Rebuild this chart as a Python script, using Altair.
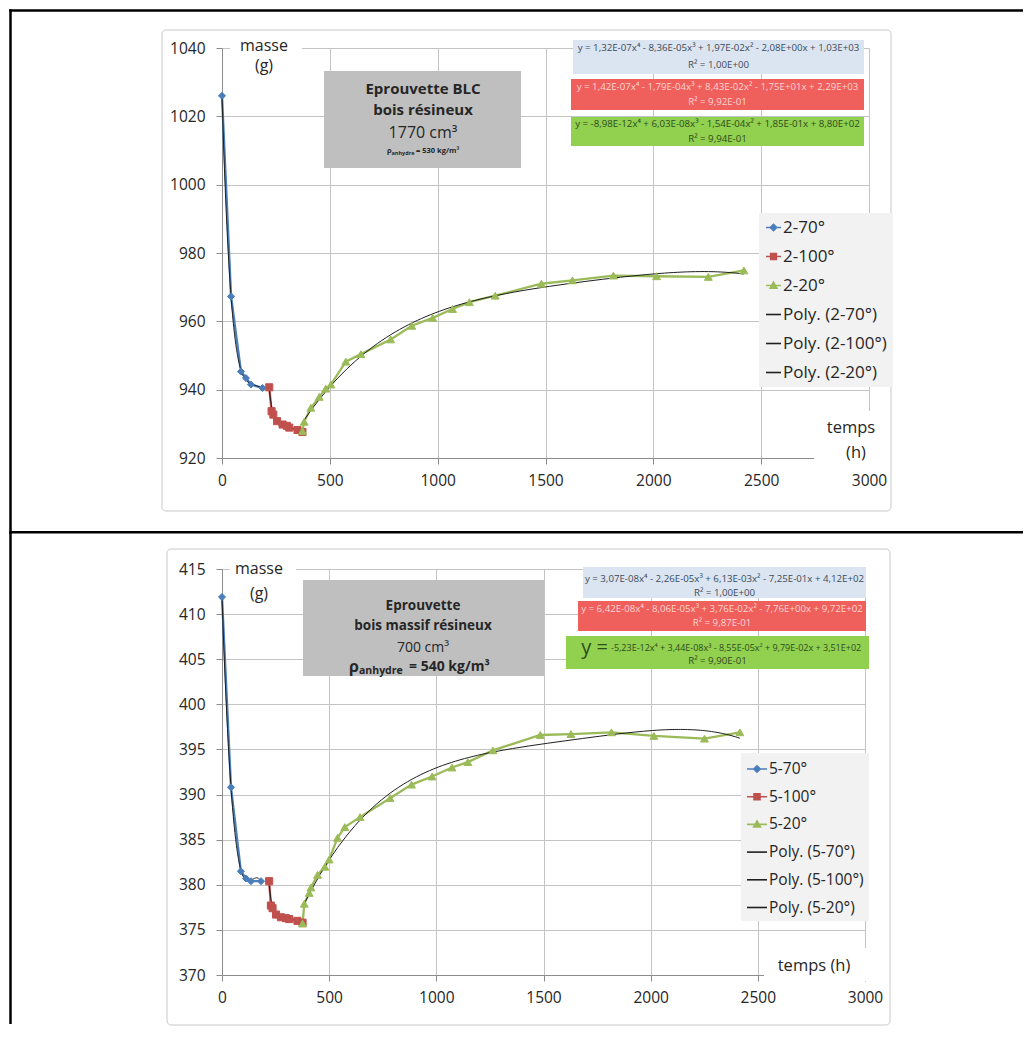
import altair as alt
import pandas as pd

FONT = "Open Sans"
INK = "#262626"
BLUE, RED, GREEN, TREND = "#4a7ebb", "#c0504d", "#9bbb59", "#1f1f1f"

TIME_TICKS = [0, 500, 1000, 1500, 2000, 2500, 3000]

# ---------------- top : éprouvette BLC ----------------
TOP_SERIES = ["2-70°", "2-100°", "2-20°"]
TOP_70_T = [0, 42, 88, 111, 134, 188]
TOP_70_M = [1026.0, 967.3, 945.3, 943.4, 941.5, 940.5]
TOP_100_T = [219, 230, 238, 255, 281, 301, 312, 350, 373]
TOP_100_M = [940.7, 933.7, 932.7, 930.8, 929.8, 929.4, 928.9, 928.2, 927.6]
TOP_20_T = [373, 381, 412, 451, 481, 505, 574, 644, 782, 880, 977, 1069, 1147,
            1267, 1481, 1625, 1815, 2015, 2255, 2420]
TOP_20_M = [927.9, 930.6, 934.7, 937.9, 940.3, 941.5, 948.2, 950.4, 954.7, 958.7,
            961.0, 963.6, 965.6, 967.5, 971.0, 972.0, 973.4, 973.2, 973.0, 974.9]
TOP_Y_TICKS = [920, 940, 960, 980, 1000, 1020, 1040]
TOP_EQ = [
    ("y = 1,32E-07x⁴ - 8,36E-05x³ + 1,97E-02x² - 2,08E+00x + 1,03E+03", "R² = 1,00E+00"),
    ("y = 1,42E-07x⁴ - 1,79E-04x³ + 8,43E-02x² - 1,75E+01x + 2,29E+03", "R² = 9,92E-01"),
    ("y = -8,98E-12x⁴ + 6,03E-08x³ - 1,54E-04x² + 1,85E-01x + 8,80E+02", "R² = 9,94E-01"),
]
TOP_BOX = ["Eprouvette BLC", "bois résineux", "1770 cm³", "ρ", "anhydre", "= 530 kg/m³"]

# ---------------- bottom : bois massif ----------------
BOT_SERIES = ["5-70°", "5-100°", "5-20°"]
BOT_70_T = [0, 42, 88, 112, 135, 182]
BOT_70_M = [411.9, 390.8, 381.5, 380.7, 380.4, 380.4]
BOT_100_T = [220, 228, 236, 252, 275, 298, 314, 352, 376]
BOT_100_M = [380.4, 377.7, 377.4, 376.7, 376.4, 376.3, 376.2, 376.0, 375.8]
BOT_20_T = [376, 384, 407, 415, 446, 480, 500, 539, 573, 644, 784, 884, 980, 1073,
            1147, 1264, 1485, 1628, 1817, 2015, 2251, 2416]
BOT_20_M = [375.7, 377.9, 379.1, 379.7, 381.1, 382.0, 382.8, 385.2, 386.4, 387.5,
            389.6, 391.1, 392.0, 393.0, 393.6, 394.9, 396.6, 396.7, 396.9, 396.5,
            396.2, 396.9]
BOT_Y_TICKS = [370, 375, 380, 385, 390, 395, 400, 405, 410, 415]
BOT_EQ = [
    ("y = 3,07E-08x⁴ - 2,26E-05x³ + 6,13E-03x² - 7,25E-01x + 4,12E+02", "R² = 1,00E+00"),
    ("y = 6,42E-08x⁴ - 8,06E-05x³ + 3,76E-02x² - 7,76E+00x + 9,72E+02", "R² = 9,87E-01"),
    ("-5,23E-12x⁴ + 3,44E-08x³ - 8,55E-05x² + 9,79E-02x + 3,51E+02", "R² = 9,90E-01"),
]
BOT_BOX = ["Eprouvette", "bois massif résineux", "700 cm³", "ρ", "anhydre", "= 540 kg/m³"]

AXIS_LABEL = "temps (h)"
MASS_LABEL = ["masse", "(g)"]

ONE = pd.DataFrame({"k": [0]})
POLY_PATH = "M-1,0L1,0"


def box(x1, y1, x2, y2, **kw):
    return alt.Chart(ONE).mark_rect(**kw).encode(
        x=alt.value(x1), x2=alt.value(x2), y=alt.value(y1), y2=alt.value(y2))


def border(x1, y1, x2, y2):
    # solid black band (filled, no stroke => exact bounds)
    return box(x1, y1, x2, y2, fill="black")


def txt(x, y, s, size, weight="normal", color=INK, align="center"):
    return alt.Chart(ONE).mark_text(text=s, font=FONT, fontSize=size, fontWeight=weight,
                                    color=color, align=align, baseline="middle").encode(
        x=alt.value(x), y=alt.value(y))


AX = dict(title=None, grid=True, gridColor="#c4c4c4", gridWidth=1, domainColor="#8c8c8c",
          domainWidth=1, tickColor="#8c8c8c", tickSize=6, labelFont=FONT, format="d",
          labelFontSize=15.5, labelColor=INK, zindex=0)


def data_layers(names, ts, ms, yticks, legend_kw, key_paths):
    rows = []
    for n, tt, mm in zip(names, ts, ms):
        for a, b in zip(tt, mm):
            rows.append({"series": n, "label": n, "t": a, "m": b})
    df = pd.DataFrame(rows)
    labels = names + ["Poly. (%s)" % n for n in names]
    colors = [BLUE, RED, GREEN, TREND, TREND, TREND]
    stroke_sc = alt.Scale(domain=labels, range=colors)
    fill_sc = alt.Scale(domain=labels, range=colors)
    shape_sc = alt.Scale(domain=labels, range=key_paths + [POLY_PATH] * 3)
    leg = alt.Legend(title=None, orient="none", fillColor="#f2f2f2", labelFont=FONT,
                     labelColor=INK, symbolStrokeWidth=1.6, labelOffset=1, **legend_kw)
    x = alt.X("t:Q", scale=alt.Scale(domain=[0, 3000], nice=False, zero=False),
              axis=alt.Axis(values=TIME_TICKS, labelPadding=9, labelFlush=False, **AX))
    y = alt.Y("m:Q", scale=alt.Scale(domain=[yticks[0], yticks[-1]], nice=False, zero=False),
              axis=alt.Axis(values=yticks, labelPadding=11, **AX))
    base = alt.Chart(df)
    lines = base.mark_line(strokeWidth=2.3).encode(
        x=x, y=y, stroke=alt.Stroke("label:N", scale=stroke_sc, legend=leg))
    trend = (base.transform_calculate(tk="datum.t / 1000")
             .transform_regression("tk", "m", groupby=["series"], method="poly", order=4)
             .transform_calculate(t="datum.tk * 1000", label="'Poly. (' + datum.series + ')'")
             .mark_line(strokeWidth=1)
             .encode(x=x, y=y, stroke=alt.Stroke("label:N", scale=stroke_sc, legend=leg)))
    pts = []
    for n, shp, sz in zip(names, ["diamond", "square", "triangle-up"], [50, 50, 62]):
        pts.append(base.transform_filter(alt.datum.series == n)
                   .mark_point(shape=shp, size=sz, filled=True, opacity=1, strokeWidth=1)
                   .encode(x=x, y=y,
                           fill=alt.Fill("label:N", scale=fill_sc, legend=leg),
                           stroke=alt.Stroke("label:N", scale=stroke_sc, legend=leg)))
    keys = (base.transform_filter("false").mark_point(filled=True, opacity=1)
            .encode(x=x, y=y, shape=alt.Shape("label:N", scale=shape_sc, legend=leg)))
    return [lines, trend] + pts + [keys]


EQ_FILL = ["#dbe5f1", "#ef5f5c", "#92d050"]
EQ_INK = ["#3b4a5a", "#fcd5d2", "#2d4d1d"]
EQ_SIZE = 9.7

# ---------------- top panel ----------------
top_layers = [
    box(-60, -18, 669, 463, fill="transparent", stroke="#c8c8c8", strokeWidth=1, cornerRadius=4),
] + data_layers(
    TOP_SERIES, [TOP_70_T, TOP_100_T, TOP_20_T], [TOP_70_M, TOP_100_M, TOP_20_M], TOP_Y_TICKS,
    dict(legendX=537, legendY=165, padding=6, rowPadding=11, labelFontSize=17, symbolSize=225),
    ["M-1,0L1,0M0,-0.42L0.42,0L0,0.42L-0.42,0Z",
     "M-1,0L1,0M-0.38,-0.38L0.38,-0.38L0.38,0.38L-0.38,0.38Z",
     "M-1,0L1,0M0,-0.45L0.45,0.35L-0.45,0.35Z"]) + [
    box(8, -11, 80, 30, fill="white"),
    txt(42, -2, MASS_LABEL[0], 16),
    txt(42, 18, MASS_LABEL[1], 16),
    box(102, 23, 299, 120, fill="#bfbfbf"),
    txt(201, 41, TOP_BOX[0], 15, "bold"),
    txt(201, 62, TOP_BOX[1], 15, "bold"),
    txt(201, 85, TOP_BOX[2], 16),
    txt(165, 103, TOP_BOX[3], 7.5, "bold", align="left"),
    txt(169.5, 105, TOP_BOX[4], 5.5, "bold", align="left"),
    txt(194, 103, TOP_BOX[5], 7.5, "bold", align="left"),
    box(351, -8, 642, 26, fill=EQ_FILL[0]),
    box(349, 31, 642, 62, fill=EQ_FILL[1]),
    box(349, 69, 642, 98, fill=EQ_FILL[2]),
    txt(496.5, 0, TOP_EQ[0][0], EQ_SIZE, color=EQ_INK[0]),
    txt(496.5, 17, TOP_EQ[0][1], EQ_SIZE, color=EQ_INK[0]),
    txt(495.5, 38.5, TOP_EQ[1][0], EQ_SIZE, color=EQ_INK[1]),
    txt(495.5, 54, TOP_EQ[1][1], EQ_SIZE, color=EQ_INK[1]),
    txt(495.5, 76, TOP_EQ[2][0], EQ_SIZE, color=EQ_INK[2]),
    txt(495.5, 91.3, TOP_EQ[2][1], EQ_SIZE, color=EQ_INK[2]),
    box(592, 363, 652, 425, fill="white"),
    txt(629, 380, "temps", 16.5),
    txt(634, 405, "(h)", 16.5),
    border(-212.75, -38.75, 801, -36.25),
    border(-212.75, -38.75, -210.25, 485.5),
    border(-212.75, 483, 801, 485.5),
]
top = alt.layer(*top_layers).properties(width=647, height=410)

# ---------------- bottom panel ----------------
bot_layers = [
    box(-55, -20, 668, 456, fill="transparent", stroke="#c8c8c8", strokeWidth=1, cornerRadius=4),
] + data_layers(
    BOT_SERIES, [BOT_70_T, BOT_100_T, BOT_20_T], [BOT_70_M, BOT_100_M, BOT_20_M], BOT_Y_TICKS,
    dict(legendX=519, legendY=184, padding=5, rowPadding=7.7, labelFontSize=15.5, symbolSize=400),
    ["M-1,0L1,0M0,-0.32L0.32,0L0,0.32L-0.32,0Z",
     "M-1,0L1,0M-0.3,-0.3L0.3,-0.3L0.3,0.3L-0.3,0.3Z",
     "M-1,0L1,0M0,-0.34L0.34,0.26L-0.34,0.26Z"]) + [
    box(8, -11, 74, 36, fill="white"),
    txt(37, 0, MASS_LABEL[0], 16),
    txt(37, 25, MASS_LABEL[1], 16),
    box(81, 11, 322, 107, fill="#bfbfbf"),
    txt(201, 37, BOT_BOX[0], 13.5, "bold"),
    txt(201, 57, BOT_BOX[1], 13.5, "bold"),
    txt(201, 79, BOT_BOX[2], 14),
    txt(127, 98, BOT_BOX[3], 16, "bold", align="left"),
    txt(137, 102, BOT_BOX[4], 10.5, "bold", align="left"),
    txt(187, 98, BOT_BOX[5], 14, "bold", align="left"),
    box(361, -2, 644, 29, fill=EQ_FILL[0]),
    box(356, 32, 644, 62, fill=EQ_FILL[1]),
    box(344, 67, 647, 100, fill=EQ_FILL[2]),
    txt(502.5, 10, BOT_EQ[0][0], EQ_SIZE, color=EQ_INK[0]),
    txt(502.5, 24, BOT_EQ[0][1], EQ_SIZE, color=EQ_INK[0]),
    txt(500, 40, BOT_EQ[1][0], EQ_SIZE, color=EQ_INK[1]),
    txt(500, 54, BOT_EQ[1][1], EQ_SIZE, color=EQ_INK[1]),
    txt(386, 79, "y =", 20, color=EQ_INK[2], align="right"),
    txt(389, 79, BOT_EQ[2][0], 9.0, color=EQ_INK[2], align="left"),
    txt(495.5, 92, BOT_EQ[2][1], EQ_SIZE, color=EQ_INK[2]),
    box(542, 379, 644, 412, fill="white"),
    txt(592, 397, AXIS_LABEL, 16.5),
    border(-212.75, -37, -210.25, 455),
]
bottom = alt.layer(*bot_layers).properties(width=643, height=406)

chart = (alt.vconcat(top, bottom, spacing=-3)
         .resolve_scale(stroke="independent", fill="independent", shape="independent")
         .resolve_legend(stroke="independent", fill="independent", shape="independent")
         .properties(padding=0, background="white")
         .configure_view(stroke="transparent"))

chart.save("out.html", embed_options={"renderer": "svg", "actions": False})
